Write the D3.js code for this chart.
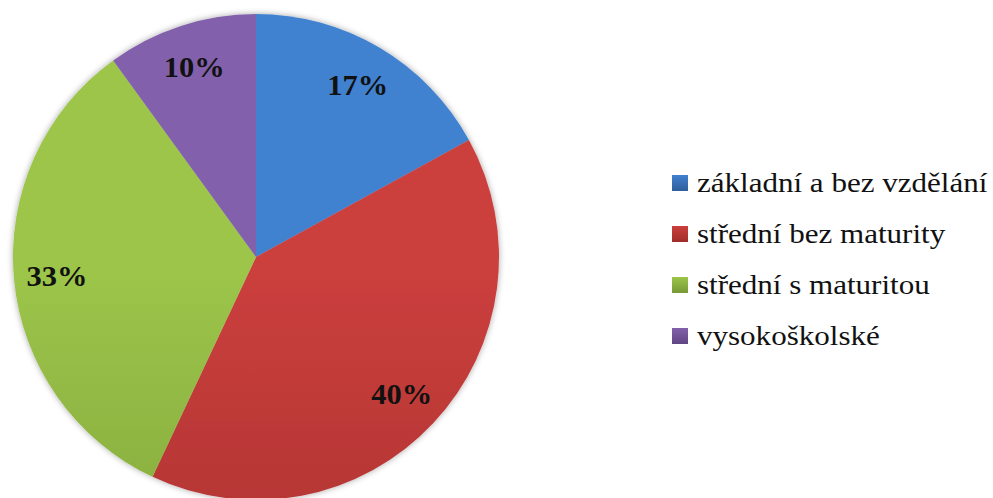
<!DOCTYPE html>
<html>
<head>
<meta charset="utf-8">
<script src="https://cdn.jsdelivr.net/npm/d3@7"></script>
<style>
  body { margin: 0; background: #fff; }
  svg { display: block; }
  .serif { font-family: "Liberation Serif", "Times New Roman", Times, serif; }
</style>
</head>
<body>
<div id="chart"></div>
<script>
// data
var categories = ["základní a bez vzdělání", "střední bez maturity", "střední s maturitou", "vysokoškolské"];
var values = [17, 40, 33, 10];
var labels = ["17%", "40%", "33%", "10%"];
var topColors = ["#4181d0", "#cb3f3d", "#9cc54a", "#8261ab"];
var bottomColors = ["#2f5e9c", "#9f2d2b", "#779935", "#5f4584"];

var width = 993, height = 498;
var cx = 256, cy = 257, R = 243;

var svg = d3.select("#chart").append("svg")
    .attr("width", width)
    .attr("height", height);

var defs = svg.append("defs");

// soft shadow round the pie
var filter = defs.append("filter").attr("id", "shadow")
    .attr("x", "-10%").attr("y", "-10%").attr("width", "120%").attr("height", "120%");
filter.append("feGaussianBlur").attr("in", "SourceAlpha").attr("stdDeviation", 3).attr("result", "blur");
filter.append("feFlood").attr("flood-color", "#000").attr("flood-opacity", 0.35);
filter.append("feComposite").attr("in2", "blur").attr("operator", "in").attr("result", "sh");
var merge = filter.append("feMerge");
merge.append("feMergeNode").attr("in", "sh");
merge.append("feMergeNode").attr("in", "SourceGraphic");

// vertical gradients, lighter at the top
categories.forEach(function(c, i) {
    var g = defs.append("linearGradient")
        .attr("id", "grad" + i)
        .attr("gradientUnits", "userSpaceOnUse")
        .attr("x1", 0).attr("y1", cy - R)
        .attr("x2", 0).attr("y2", cy + R);
    g.append("stop").attr("offset", "0%").attr("stop-color", topColors[i]);
    g.append("stop").attr("offset", "100%").attr("stop-color", bottomColors[i]);

    var lg = defs.append("linearGradient")
        .attr("id", "lg" + i)
        .attr("x1", 0).attr("y1", 0).attr("x2", 0).attr("y2", 1);
    lg.append("stop").attr("offset", "0%").attr("stop-color", topColors[i]);
    lg.append("stop").attr("offset", "100%").attr("stop-color", bottomColors[i]);
});

var pie = d3.pie().sort(null).value(function(d) { return d; });
var arcs = pie(values);

var arc = d3.arc().innerRadius(0).outerRadius(R);
var labelArc = d3.arc().innerRadius(200).outerRadius(200);

var g = svg.append("g").attr("transform", "translate(" + cx + "," + cy + ")");

g.append("g").attr("filter", "url(#shadow)")
    .selectAll("path")
    .data(arcs)
    .enter().append("path")
    .attr("d", arc)
    .attr("fill", function(d, i) { return "url(#grad" + i + ")"; });

g.selectAll("text.pct")
    .data(arcs)
    .enter().append("text")
    .attr("class", "pct serif")
    .attr("transform", function(d) { return "translate(" + labelArc.centroid(d) + ") scale(1.05,1)"; })
    .attr("text-anchor", "middle")
    .attr("dy", "0.35em")
    .style("font-weight", "bold")
    .style("font-size", "29px")
    .style("fill", "#111")
    .text(function(d, i) { return labels[i]; });

// legend
var legend = svg.append("g").attr("transform", "translate(672,183)");
var rows = legend.selectAll("g")
    .data(categories)
    .enter().append("g")
    .attr("transform", function(d, i) { return "translate(0," + (i * 51) + ")"; });

rows.append("rect")
    .attr("x", 0).attr("y", -8)
    .attr("width", 16).attr("height", 16)
    .attr("fill", function(d, i) { return "url(#lg" + i + ")"; });

// the legend text in the picture is wider than the font, so stretch it
rows.append("text")
    .attr("class", "serif")
    .attr("transform", "translate(25,0) scale(1.15,1)")
    .attr("dy", "0.35em")
    .style("font-size", "27px")
    .style("fill", "#111")
    .text(function(d) { return d; });
</script>
</body>
</html>
